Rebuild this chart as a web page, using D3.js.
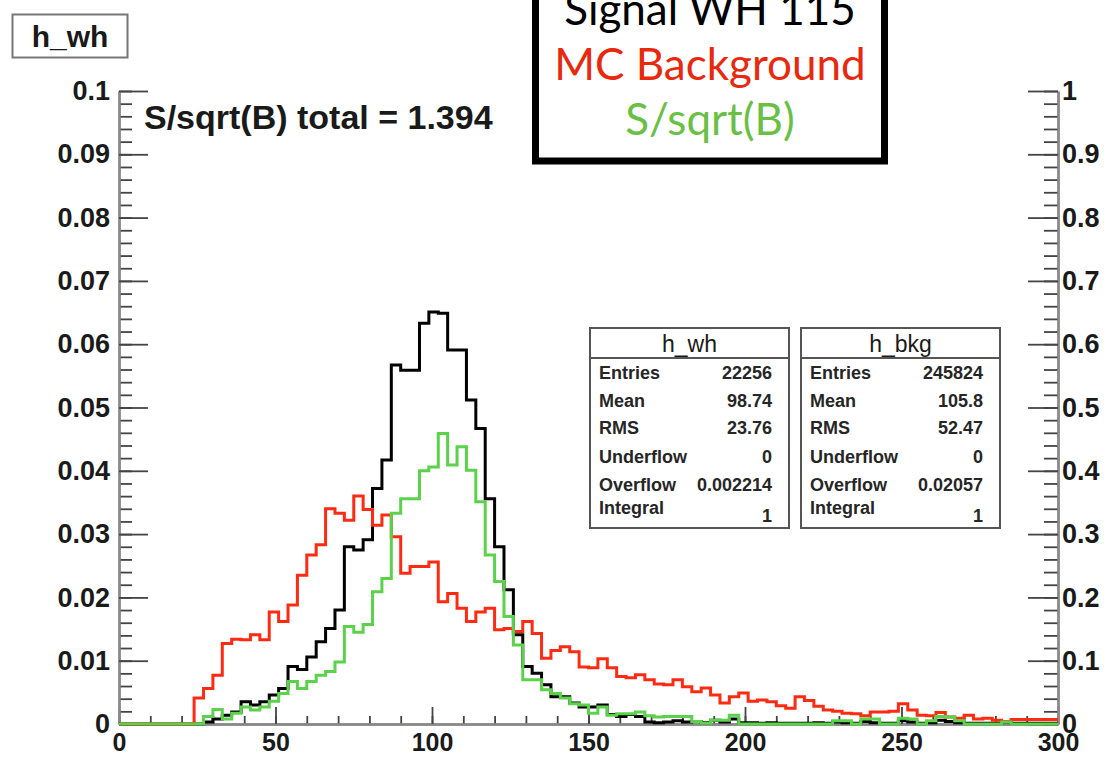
<!DOCTYPE html>
<html>
<head>
<meta charset="utf-8">
<script src="https://cdn.jsdelivr.net/npm/d3@7"></script>
<style>
  html, body { margin: 0; padding: 0; background: #fff; }
  svg { display: block; }
</style>
</head>
<body>
<svg id="chart" width="1106" height="757"></svg>
<script>
// ---- data: 100 bins of width 3 on [0, 300) ----
const binLow = d3.range(0, 300, 3);

// normalised signal (WH, m_H = 115)
const signalWH = [
  0, 0, 0, 0, 0, 0, 0, 0, 0, 0.0003,
  0.0008, 0.0014, 0.0019, 0.0035, 0.0030, 0.0035, 0.0046, 0.0056, 0.0091, 0.0086,
  0.0106, 0.0130, 0.0151, 0.0180, 0.0280, 0.0275, 0.0291, 0.0372, 0.0417, 0.0567,
  0.0559, 0.0559, 0.0633, 0.0651, 0.0649, 0.0591, 0.0591, 0.0512, 0.0467, 0.0356,
  0.0280, 0.0212, 0.0141, 0.0091, 0.0080, 0.0062, 0.0043, 0.0043, 0.0033, 0.0027,
  0.0027, 0.0030, 0.0015, 0.0012, 0.0015, 0.0012, 0.0003, 0.0002, 0.0003, 0.0005,
  0.0003, 0.0004, 0.0002, 0.0006, 0.0003, 0.0008, 0.0002, 0.0002, 0.0001, 0.0002,
  0.0001, 0.0001, 0.0001, 0.0001, 0.0002, 0.0001, 0.0003, 0.0002, 0.0001, 0.0004,
  0.0002, 0.0001, 0.0001, 0.0005, 0.0003, 0.0001, 0.0002, 0.0006, 0.0004, 0.0002,
  0.0001, 0.0001, 0.0001, 0.0001, 0.0003, 0.0001, 0.0001, 0.0001, 0.0001, 0.0001
];

// normalised MC background
const mcBackground = [
  0, 0, 0, 0, 0, 0, 0, 0, 0.0041, 0.0056,
  0.0077, 0.0127, 0.0134, 0.0133, 0.0141, 0.0133, 0.0177, 0.0162, 0.0188, 0.0235,
  0.0267, 0.0283, 0.0340, 0.0333, 0.0322, 0.0360, 0.0339, 0.0314, 0.0330, 0.0296,
  0.0238, 0.0249, 0.0249, 0.0256, 0.0193, 0.0206, 0.0183, 0.0162, 0.0177, 0.0183,
  0.0149, 0.0151, 0.0146, 0.0162, 0.0143, 0.0104, 0.0116, 0.0122, 0.0114, 0.0090,
  0.0089, 0.0103, 0.0089, 0.0075, 0.0073, 0.0078, 0.0070, 0.0063, 0.0062, 0.0070,
  0.0059, 0.0051, 0.0057, 0.0046, 0.0033, 0.0043, 0.0049, 0.0036, 0.0038, 0.0035,
  0.0029, 0.0025, 0.0043, 0.0037, 0.0028, 0.0022, 0.0020, 0.0017, 0.0016, 0.0013,
  0.0019, 0.0019, 0.0020, 0.0032, 0.0022, 0.0014, 0.0013, 0.0018, 0.0011, 0.0009,
  0.0014, 0.0008, 0.0009, 0.0006, 0.0004, 0.0007, 0.0007, 0.0007, 0.0007, 0.0007
];

// S/sqrt(B) per bin (right-hand axis)
const sOverSqrtB = [
  0, 0, 0, 0, 0, 0, 0, 0, 0, 0.012,
  0.023, 0.008, 0.017, 0.027, 0.022, 0.027, 0.036, 0.048, 0.067, 0.056,
  0.067, 0.077, 0.083, 0.098, 0.154, 0.145, 0.157, 0.209, 0.230, 0.333,
  0.356, 0.356, 0.400, 0.406, 0.459, 0.409, 0.438, 0.401, 0.351, 0.267,
  0.225, 0.170, 0.125, 0.070, 0.070, 0.054, 0.048, 0.041, 0.032, 0.030,
  0.017, 0.027, 0.014, 0.016, 0.016, 0.019, 0.013, 0.011, 0.012, 0.012,
  0.012, 0.004, 0.001, 0.006, 0.006, 0.014, 0, 0, 0, 0,
  0, 0, 0, 0, 0, 0, 0.005, 0.005, 0, 0.008,
  0.008, 0, 0, 0.009, 0.008, 0, 0.005, 0.012, 0.011, 0.005,
  0, 0, 0, 0, 0.003, 0, 0, 0, 0, 0
];

// axis ticks
const xMajorTicks = [0, 50, 100, 150, 200, 250, 300];
const xMinorTicks = d3.range(0, 301, 10);
const yLeftMajorTicks = [0, 0.01, 0.02, 0.03, 0.04, 0.05, 0.06, 0.07, 0.08, 0.09, 0.1];
const yLeftTickLabels = ["0", "0.01", "0.02", "0.03", "0.04", "0.05", "0.06", "0.07", "0.08", "0.09", "0.1"];
const yLeftMinorTicks = d3.range(0, 51).map(i => i * 0.002);
const yRightMajorTicks = [0, 0.1, 0.2, 0.3, 0.4, 0.5, 0.6, 0.7, 0.8, 0.9, 1];
const yRightTickLabels = ["0", "0.1", "0.2", "0.3", "0.4", "0.5", "0.6", "0.7", "0.8", "0.9", "1"];
const yRightMinorTicks = d3.range(0, 51).map(i => i * 0.02);

// legend and annotations
const legendLabels = ["Signal WH 115", "MC Background", "S/sqrt(B)"];
const histTitle = "h_wh";
const totalLabel = "S/sqrt(B) total = 1.394";

// statistics boxes
const statNames = ["Entries", "Mean", "RMS", "Underflow", "Overflow", "Integral"];
const statBoxes = [
  { title: "h_wh",  values: ["22256", "98.74", "23.76", "0", "0.002214", "1"] },
  { title: "h_bkg", values: ["245824", "105.8", "52.47", "0", "0.02057", "1"] }
];

// ---- layout ----
const svg = d3.select("#chart");
const X0 = 119, X1 = 1058, Y0 = 724, Y1 = 91;
const x = d3.scaleLinear().domain([0, 300]).range([X0, X1]);
const yL = d3.scaleLinear().domain([0, 0.1]).range([Y0, Y1]);
const yR = d3.scaleLinear().domain([0, 1]).range([Y0, Y1]);

const COLORS = { signal: "#000000", bkg: "#ff2a12", sig: "#5ad24a" };
const tickFont = "'Liberation Sans', Arial, Helvetica, sans-serif";
const TICK_FS = 27;
const XTICK_FS = 25;

// ---- axes ----
function styleAxis(g, fontSize) {
  g.select(".domain").attr("stroke", "#8a8a8a").attr("stroke-width", 2.4);
  g.selectAll(".tick line").attr("stroke", "#444").attr("stroke-width", 1.8);
  g.selectAll(".tick text")
    .attr("fill", "#1a1a1a")
    .attr("font-family", tickFont)
    .attr("font-weight", "bold")
    .attr("font-size", fontSize);
}

// bottom axis: minor then major ticks
svg.append("g")
  .attr("transform", `translate(0,${Y0})`)
  .call(d3.axisBottom(x).tickValues(xMinorTicks).tickSize(-8).tickSizeOuter(0).tickFormat(""))
  .call(g => styleAxis(g, XTICK_FS));
svg.append("g")
  .attr("transform", `translate(0,${Y0})`)
  .call(d3.axisBottom(x).tickValues(xMajorTicks).tickSize(-17).tickSizeOuter(0).tickPadding(9).tickFormat(d3.format("d")))
  .call(g => styleAxis(g, XTICK_FS));

// left axis
svg.append("g")
  .attr("transform", `translate(${X0},0)`)
  .call(d3.axisLeft(yL).tickValues(yLeftMinorTicks).tickSize(-13).tickSizeOuter(0).tickFormat(""))
  .call(g => styleAxis(g, TICK_FS));
svg.append("g")
  .attr("transform", `translate(${X0},0)`)
  .call(d3.axisLeft(yL).tickValues(yLeftMajorTicks).tickSize(-29).tickSizeOuter(0).tickPadding(9)
    .tickFormat((d, i) => yLeftTickLabels[i]))
  .call(g => styleAxis(g, TICK_FS));

// right axis (S/sqrt(B))
svg.append("g")
  .attr("transform", `translate(${X1},0)`)
  .call(d3.axisRight(yR).tickValues(yRightMinorTicks).tickSize(-14).tickSizeOuter(0).tickFormat(""))
  .call(g => styleAxis(g, TICK_FS));
svg.append("g")
  .attr("transform", `translate(${X1},0)`)
  .call(d3.axisRight(yR).tickValues(yRightMajorTicks).tickSize(-30).tickSizeOuter(0).tickPadding(4)
    .tickFormat((d, i) => yRightTickLabels[i]))
  .call(g => styleAxis(g, TICK_FS));

// ---- histograms (step outlines) ----
function stepPoints(values) {
  const pts = binLow.map((lo, i) => [lo, values[i]]);
  pts.push([300, values[values.length - 1]]);
  return pts;
}
const lineLeft = d3.line().x(d => x(d[0])).y(d => yL(d[1])).curve(d3.curveStepAfter);
const lineRight = d3.line().x(d => x(d[0])).y(d => yR(d[1])).curve(d3.curveStepAfter);

const histG = svg.append("g").attr("fill", "none").attr("stroke-width", 3).attr("stroke-linejoin", "miter");
histG.append("path").attr("d", lineLeft(stepPoints(signalWH))).attr("stroke", COLORS.signal);
histG.append("path").attr("d", lineLeft(stepPoints(mcBackground))).attr("stroke", COLORS.bkg);
histG.append("path").attr("d", lineRight(stepPoints(sOverSqrtB))).attr("stroke", COLORS.sig);

// ---- histogram title box ----
const titleG = svg.append("g");
titleG.append("rect").attr("x", 12.5).attr("y", 14.5).attr("width", 115).attr("height", 43)
  .attr("fill", "#fff").attr("stroke", "#777").attr("stroke-width", 2);
titleG.append("text").attr("x", 70).attr("y", 47).attr("text-anchor", "middle")
  .attr("font-family", tickFont).attr("font-weight", "bold").attr("font-size", 30)
  .attr("fill", "#1a1a1a").text(histTitle);

// total significance
svg.append("text").attr("x", 144).attr("y", 129)
  .attr("font-family", tickFont).attr("font-weight", "bold").attr("font-size", 34)
  .attr("fill", "#1a1a1a").text(totalLabel);

// ---- statistics boxes ----
const statFont = 18;
const rowBase = [379, 406.5, 434, 463, 490.5, 514];
statBoxes.forEach((box, bi) => {
  const left = 590 + bi * 211, width = 199, top = 328, height = 200;
  const g = svg.append("g");
  g.append("rect").attr("x", left).attr("y", top).attr("width", width).attr("height", height)
    .attr("fill", "#fff").attr("stroke", "#555").attr("stroke-width", 2);
  g.append("line").attr("x1", left).attr("x2", left + width).attr("y1", top + 30).attr("y2", top + 30)
    .attr("stroke", "#555").attr("stroke-width", 2);
  g.append("text").attr("x", left + width / 2).attr("y", top + 24).attr("text-anchor", "middle")
    .attr("font-family", tickFont).attr("font-size", 23).attr("fill", "#1a1a1a").text(box.title);
  statNames.forEach((name, i) => {
    g.append("text").attr("x", left + 9).attr("y", rowBase[i])
      .attr("font-family", tickFont).attr("font-weight", "bold").attr("font-size", statFont)
      .attr("fill", "#262626").text(name);
    g.append("text").attr("x", left + width - 17).attr("y", i === 5 ? rowBase[i] + 8 : rowBase[i])
      .attr("text-anchor", "end")
      .attr("font-family", tickFont).attr("font-weight", "bold").attr("font-size", statFont)
      .attr("fill", "#262626").text(box.values[i]);
  });
});

// ---- legend box (top) ----
const legendG = svg.append("g");
legendG.append("rect").attr("x", 535.5).attr("y", -20).attr("width", 349).attr("height", 181)
  .attr("fill", "#fff").attr("stroke", "#000").attr("stroke-width", 7);
const legendColors = [COLORS.signal, "#e8290e", "#6abf45"];
const legendBase = [25, 80, 135];
legendLabels.forEach((t, i) => {
  legendG.append("text").attr("x", 710).attr("y", legendBase[i]).attr("text-anchor", "middle")
    .attr("font-family", "Lato, 'Open Sans', sans-serif").attr("font-size", 44)
    .attr("fill", legendColors[i]).text(t);
});
</script>
</body>
</html>
